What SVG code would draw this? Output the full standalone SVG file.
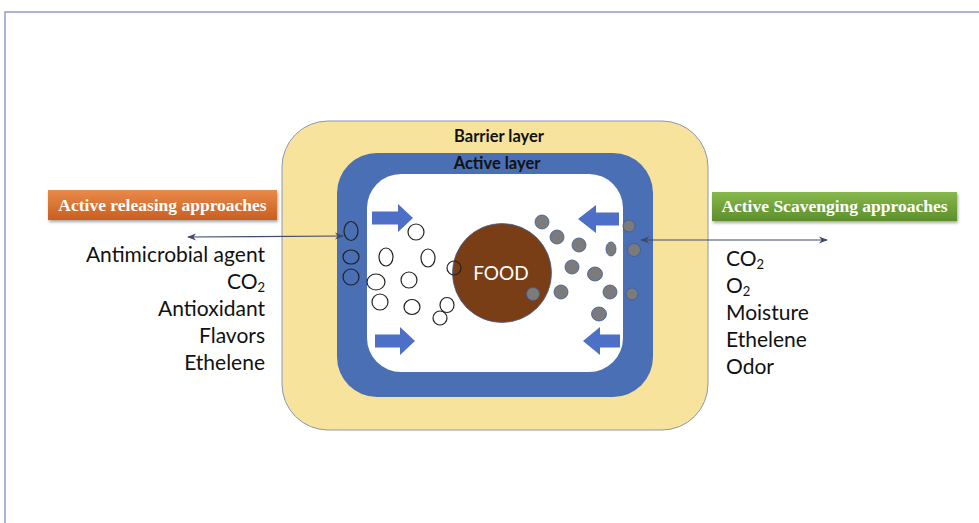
<svg xmlns="http://www.w3.org/2000/svg" width="979" height="523" viewBox="0 0 979 523">
<defs>
<linearGradient id="gOr" x1="0" y1="0" x2="0" y2="1"><stop offset="0" stop-color="#e98a4a"/><stop offset="1" stop-color="#c95f20"/></linearGradient>
<linearGradient id="gGr" x1="0" y1="0" x2="0" y2="1"><stop offset="0" stop-color="#86b84c"/><stop offset="1" stop-color="#5d8f2c"/></linearGradient>
<filter id="sh" x="-10%" y="-20%" width="120%" height="160%"><feDropShadow dx="1" dy="2" stdDeviation="1.5" flood-color="#000" flood-opacity="0.35"/></filter>
<marker id="ah" viewBox="0 0 10 10" refX="9" refY="5" markerWidth="9" markerHeight="9" markerUnits="userSpaceOnUse" orient="auto-start-reverse"><path d="M0,1 L10,5 L0,9 L3,5 Z" fill="#404a6a"/></marker>
<style>
.lbl{font-family:"Lato","Liberation Sans",sans-serif;font-size:21px;fill:#111}
.sub{font-size:13px}
.hd{font-family:"Liberation Serif",serif;font-weight:bold;font-size:17.5px;fill:#fff}
.lay{font-family:"Lato","Liberation Sans",sans-serif;font-weight:bold;font-size:16.5px;fill:#111;text-anchor:middle}
.oc{fill:none;stroke:#222;stroke-width:1.2}
.gd{fill:#7b7b7b;stroke:#3d5a99;stroke-width:0.8}
.ba{fill:#4d6fc6}
.con{stroke:#404a6a;stroke-width:1.2;fill:none}
</style>
</defs>
<rect x="0" y="0" width="979" height="523" fill="#fff"/>
<rect x="5" y="12" width="990" height="530" fill="none" stroke="#8f9fcc" stroke-width="1.5"/>

<g id="barrier">
<rect x="282" y="121" width="426" height="309" rx="46" fill="#f8e39c" stroke="#8a96b8" stroke-width="1"/>
<text class="lay" x="499" y="142">Barrier layer</text>
</g>
<g id="active">
<rect x="337" y="153" width="316" height="244" rx="40" fill="#4a6fb4"/>
<text class="lay" x="497" y="169">Active layer</text>
</g>
<g id="inner">
<rect x="367" y="174" width="256" height="198" rx="34" fill="#fff"/>
</g>
<g id="food">
<circle cx="502" cy="273" r="49.5" fill="#7a3e16" stroke="#4a5f9a" stroke-width="0.8"/>
<text x="501" y="280" font-family="Lato,'Liberation Sans',sans-serif" font-size="19" fill="#fff" text-anchor="middle">FOOD</text>
</g>

<g id="flow-arrows">
<path class="ba" d="M372,211.5 H398 V204 L413,218 L398,232 V224.5 H372 Z"/>
<path class="ba" d="M375,334.5 H400 V327 L415,341 L400,355 V347.5 H375 Z"/>
<path class="ba" d="M619,212.5 H596 V205 L578,219 L596,233 V225.5 H619 Z"/>
<path class="ba" d="M620,334.5 H600 V327 L583,341 L600,355 V347.5 H620 Z"/>
</g>

<g id="release-particles">
<ellipse class="oc" cx="351" cy="231" rx="7" ry="9.5"/>
<ellipse class="oc" cx="351" cy="257" rx="8" ry="7"/>
<ellipse class="oc" cx="351" cy="277" rx="8" ry="8"/>
<ellipse class="oc" cx="416" cy="232" rx="8" ry="8"/>
<ellipse class="oc" cx="386" cy="257" rx="7" ry="9"/>
<ellipse class="oc" cx="428" cy="258" rx="7" ry="9"/>
<ellipse class="oc" cx="454" cy="268" rx="7" ry="7"/>
<ellipse class="oc" cx="376" cy="282" rx="9" ry="8"/>
<ellipse class="oc" cx="409" cy="280" rx="8" ry="8"/>
<ellipse class="oc" cx="380" cy="302" rx="8" ry="8"/>
<ellipse class="oc" cx="412" cy="307" rx="8" ry="7.5"/>
<ellipse class="oc" cx="447" cy="305" rx="7" ry="7.5"/>
<ellipse class="oc" cx="440" cy="318" rx="7" ry="7"/>
</g>

<g id="scavenge-particles">
<circle class="gd" cx="542" cy="222" r="7"/>
<circle class="gd" cx="557" cy="237" r="7"/>
<circle class="gd" cx="579" cy="245" r="7"/>
<ellipse class="gd" cx="611" cy="249" rx="5" ry="7"/>
<circle class="gd" cx="629" cy="226" r="6"/>
<circle class="gd" cx="634" cy="250" r="6.5"/>
<circle class="gd" cx="572" cy="267" r="7"/>
<ellipse class="gd" cx="595" cy="274" rx="7.5" ry="7"/>
<circle class="gd" cx="610" cy="292" r="7"/>
<circle class="gd" cx="632" cy="294" r="6"/>
<circle class="gd" cx="561" cy="292" r="7"/>
<circle class="gd" cx="533" cy="294" r="6.5"/>
<ellipse class="gd" cx="599" cy="314" rx="7.5" ry="7"/>
</g>

<g id="connectors">
<line class="con" x1="188" y1="237" x2="343" y2="236" marker-start="url(#ah)" marker-end="url(#ah)"/>
<line class="con" x1="641" y1="240" x2="827" y2="240" marker-start="url(#ah)" marker-end="url(#ah)"/>
</g>

<g id="releasing">
<rect x="48" y="190" width="229" height="30" fill="url(#gOr)" filter="url(#sh)"/>
<text class="hd" x="162.5" y="211" text-anchor="middle">Active releasing approaches</text>
<text class="lbl" text-anchor="end" x="265" y="262">Antimicrobial agent</text>
<text class="lbl" text-anchor="end" x="265" y="289">CO<tspan class="sub" dy="3">2</tspan></text>
<text class="lbl" text-anchor="end" x="265" y="316">Antioxidant</text>
<text class="lbl" text-anchor="end" x="265" y="343">Flavors</text>
<text class="lbl" text-anchor="end" x="265" y="370">Ethelene</text>
</g>

<g id="scavenging">
<rect x="712" y="192" width="245" height="29" fill="url(#gGr)" filter="url(#sh)"/>
<text class="hd" x="834.5" y="212" text-anchor="middle">Active Scavenging approaches</text>
<text class="lbl" x="726" y="266">CO<tspan class="sub" dy="3">2</tspan></text>
<text class="lbl" x="726" y="293">O<tspan class="sub" dy="3">2</tspan></text>
<text class="lbl" x="726" y="320">Moisture</text>
<text class="lbl" x="726" y="347">Ethelene</text>
<text class="lbl" x="726" y="374">Odor</text>
</g>
</svg>
